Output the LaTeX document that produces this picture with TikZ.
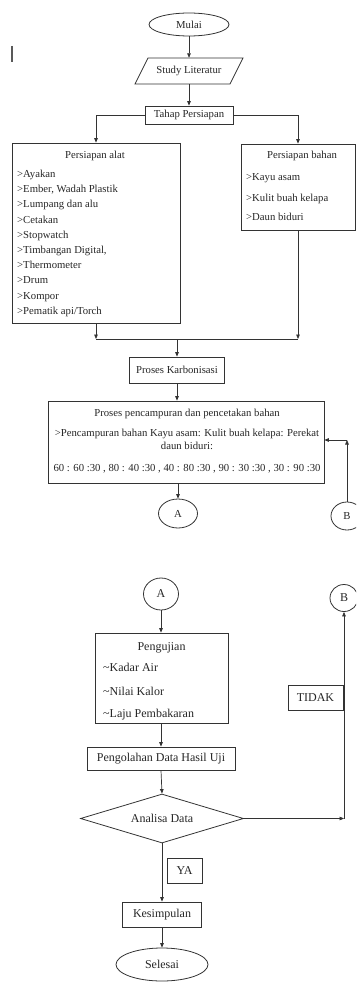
\documentclass[tikz,border=0pt]{standalone}
\usepackage{fontspec}
\setmainfont{Liberation Serif}
\usetikzlibrary{shapes.geometric,arrows.meta}
\begin{document}
\begin{tikzpicture}[x=1pt,y=-1pt,
  every node/.style={inner sep=0pt, text=black!85},
  fs/.style={font=\fontsize{10.7}{12}\selectfont},
  fl/.style={font=\fontsize{12}{14}\selectfont},
  box/.style={draw=black!80, line width=0.8pt, rectangle},
  oval/.style={draw=black!80, line width=0.8pt, ellipse},
  arr/.style={draw=black!80, line width=0.7pt, -{Triangle[length=4.5pt,width=3.6pt]}},
  ln/.style={draw=black!80, line width=0.7pt},
  tl/.style={anchor=base west},
  tc/.style={anchor=base},
]
\useasboundingbox (0,0) rectangle (356,982);
\clip (0,0) rectangle (356,982);

% cursor mark
\draw[line width=1.4pt, black!65] (12,46) -- (12,62);

% top part
\node[oval, fs, minimum width=80pt, minimum height=23pt] (mulai) at (189,24.5) {Mulai};
\node[fs, minimum width=95pt, minimum height=26pt] (study) at (189,71) {Study Literatur};
\draw[draw=black!80, line width=0.8pt] (148,58) -- (243,58) -- (230,84) -- (135,84) -- cycle;
\node[box, fs, minimum width=88pt, minimum height=18pt] (tahap) at (189,115) {Tahap Persiapan};

\node[box, minimum width=168pt, minimum height=180pt] (alat) at (96,233) {};
\node[fs, tc] (alath) at (95,158.5) {Persiapan alat};
\node[fs, tl] (a1) at (17,177.5) {>Ayakan};
\node[fs, tl] (a2) at (17,192.7) {>Ember, Wadah Plastik};
\node[fs, tl] (a3) at (17,207.9) {>Lumpang dan alu};
\node[fs, tl] (a4) at (17,223.1) {>Cetakan};
\node[fs, tl] (a5) at (17,238.3) {>Stopwatch};
\node[fs, tl] (a6) at (17,253.5) {>Timbangan Digital,};
\node[fs, tl] (a7) at (17,268.7) {>Thermometer};
\node[fs, tl] (a8) at (17,283.9) {>Drum};
\node[fs, tl] (a9) at (17,299.1) {>Kompor};
\node[fs, tl] (a10) at (17,314.3) {>Pematik api/Torch};

\node[box, minimum width=114pt, minimum height=86pt] (bahan) at (298,187) {};
\node[fs, tc] (bahanh) at (302,158.5) {Persiapan bahan};
\node[fs, tl] (b1) at (246,180) {>Kayu asam};
\node[fs, tl] (b2) at (246,201) {>Kulit buah kelapa};
\node[fs, tl] (b3) at (246,220.5) {>Daun biduri};

\draw[arr] (tahap.west) -| (alat.north);
\draw[arr] (tahap.east) -| (bahan.north);
\draw[arr] (mulai.south) -- (study.north);
\draw[arr] (study.south) -- (tahap.north);

\coordinate (jl) at (96,339);
\coordinate (jr) at (298,339);
\coordinate (jm) at (177,339);
\draw[arr] (alat.south) -- (jl);
\draw[arr] (bahan.south) -- (jr);
\draw[ln] (jl) -- (jr);

\node[box, fs, minimum width=95pt, minimum height=26pt] (karbon) at (177,370) {Proses Karbonisasi};
\draw[arr] (jm) -- (karbon.north);

\node[box, minimum width=276pt, minimum height=82pt] (campur) at (186,442) {};
\node[fs, tc] (c1) at (187,416.5) {Proses pencampuran dan pencetakan bahan};
\node[fs, tc] (c2) at (187,436.5) {>Pencampuran bahan Kayu asam: Kulit buah kelapa: Perekat};
\node[fs, tc] (c3) at (187,449.5) {daun biduri:};
\node[fs, tc] (c4) at (187,471.5) {60 : 60 :30 , 80 : 40 :30 , 40 : 80 :30 , 90 : 30 :30 , 30 : 90 :30};
\draw[arr] (karbon.south) -- (karbon.south |- campur.north);

\node[oval, fs, minimum width=39pt, minimum height=29pt] (ca) at (178,513.5) {A};
\draw[arr] (ca.north |- campur.south) -- (ca.north);

\node[oval, fs, minimum width=32pt, minimum height=28pt] (cb) at (347,516) {B};
\coordinate (bc) at (347,440);
\draw[arr] (cb.north) -- (bc);
\draw[arr] (bc) -- (bc -| campur.east);

% bottom part
\node[oval, fl, minimum width=35pt, minimum height=32pt] (la) at (161,594) {A};
\node[oval, fl, minimum width=28pt, minimum height=27pt] (lb) at (344,598) {B};

\node[box, minimum width=133pt, minimum height=90pt] (uji) at (161.5,678) {};
\node[fl, tc] (ujih) at (161.5,650) {Pengujian};
\node[fl, tl] (u1) at (103,671) {\textasciitilde Kadar Air};
\node[fl, tl] (u2) at (103,695) {\textasciitilde Nilai Kalor};
\node[fl, tl] (u3) at (103,717) {\textasciitilde Laju Pembakaran};
\draw[arr] (la.south) -- (la.south |- uji.north);

\node[box, fl, minimum width=148pt, minimum height=23pt] (olah) at (161,758.5) {Pengolahan Data Hasil Uji};
\draw[arr] (olah.north |- uji.south) -- (olah.north);

\node[diamond, draw=black!80, line width=0.8pt, fl, aspect=3.3, minimum width=163pt, minimum height=49pt] (ana) at (162,818.5) {Analisa Data};
\draw[arr] (olah.south) -- (ana.north);

\coordinate (rc) at (344,818.5);
\draw[arr] (ana.east) -- (rc);
\draw[arr] (rc) -- (lb.south);
\node[box, fl, minimum width=55pt, minimum height=25pt] (tidak) at (315.5,697.5) {TIDAK};

\node[box, fl, minimum width=79pt, minimum height=25pt] (kes) at (162,914.5) {Kesimpulan};
\draw[arr] (ana.south) -- (kes.north);
\node[box, fl, minimum width=35pt, minimum height=25pt] (ya) at (184.5,870.5) {YA};

\node[oval, fl, minimum width=92pt, minimum height=33pt] (sel) at (162,964.5) {Selesai};
\draw[arr] (kes.south) -- (sel.north);
\end{tikzpicture}
\end{document}
